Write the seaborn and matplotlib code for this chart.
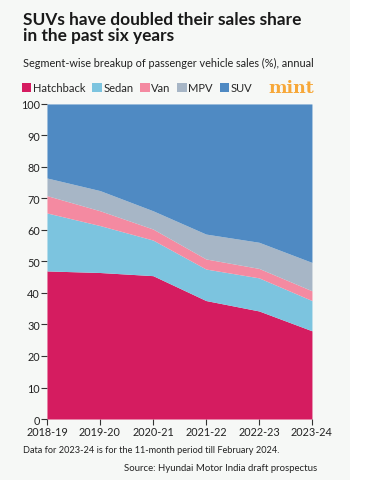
import numpy as np
import seaborn as sns
import matplotlib.pyplot as plt
from matplotlib.patches import Patch, Rectangle

years = ["2018-19", "2019-20", "2020-21", "2021-22", "2022-23", "2023-24"]
hatchback = [47.0, 46.5, 45.5, 37.6, 34.3, 28.0]
sedan = [18.4, 14.9, 11.3, 10.0, 10.5, 9.6]
van = [5.5, 4.7, 3.5, 3.2, 3.0, 3.1]
mpv = [5.6, 6.4, 5.8, 7.9, 8.3, 9.0]
suv = [23.5, 27.5, 33.9, 41.3, 43.9, 50.3]

segments = ["Hatchback", "Sedan", "Van", "MPV", "SUV"]
colors = ["#d51c60", "#7cc4df", "#f48aa1", "#a7b6c6", "#4f8ac3"]

sns.set_theme(style="white")
plt.rcParams['font.family'] = ['Lato', 'DejaVu Sans']

bg = "#f6f8f6"
fig = plt.figure(figsize=(3.67, 4.81), dpi=100, facecolor=bg)
fig.patches.append(Rectangle((0.955, 0), 0.045, 1, transform=fig.transFigure,
                             facecolor="white", edgecolor="none", zorder=0))

ax = fig.add_axes([0.128, 0.1268, 0.722, 0.655])
ax.set_facecolor(bg)
x = np.arange(len(years))
ax.stackplot(x, hatchback, sedan, van, mpv, suv, colors=colors, linewidth=0)

ax.set_xlim(0, len(years) - 1)
ax.set_ylim(0, 100)
ax.set_yticks(range(0, 101, 10))
ax.set_xticks(x)
ax.set_xticklabels(years)
for s in ax.spines.values():
    s.set_visible(False)
ax.tick_params(axis="both", which="both", length=4, width=0.8, color="#333333",
               labelsize=7.8, labelcolor="#222222", pad=1, left=True, bottom=True)

# titles
fig.text(0.063, 0.975, "SUVs have doubled their sales share\nin the past six years",
         fontsize=12.4, fontweight="bold", color="#1a1a1a", va="top", linespacing=1.0)
fig.text(0.063, 0.869, "Segment-wise breakup of passenger vehicle sales (%), annual",
         fontsize=7.8, color="#222222", va="center")

handles = [Patch(facecolor=c, edgecolor="none") for c in colors]
fig.legend(handles, segments, loc="center left", bbox_to_anchor=(0.06, 0.815),
           ncol=5, frameon=False, fontsize=8, handlelength=0.85, handleheight=0.85,
           handletextpad=0.15, columnspacing=0.6, borderaxespad=0, borderpad=0)
fig.text(0.855, 0.817, "mint", fontsize=12.5, fontweight="bold", color="#f7a839",
         family=["DejaVu Serif"], ha="right", va="center")

fig.text(0.063, 0.064, "Data for 2023-24 is for the 11-month period till February 2024.",
         fontsize=6.6, color="#222222", va="center")
fig.text(0.865, 0.027, "Source: Hyundai Motor India draft prospectus",
         fontsize=6.9, color="#222222", va="center", ha="right")

fig.savefig("out.png", dpi=100, facecolor=bg)
